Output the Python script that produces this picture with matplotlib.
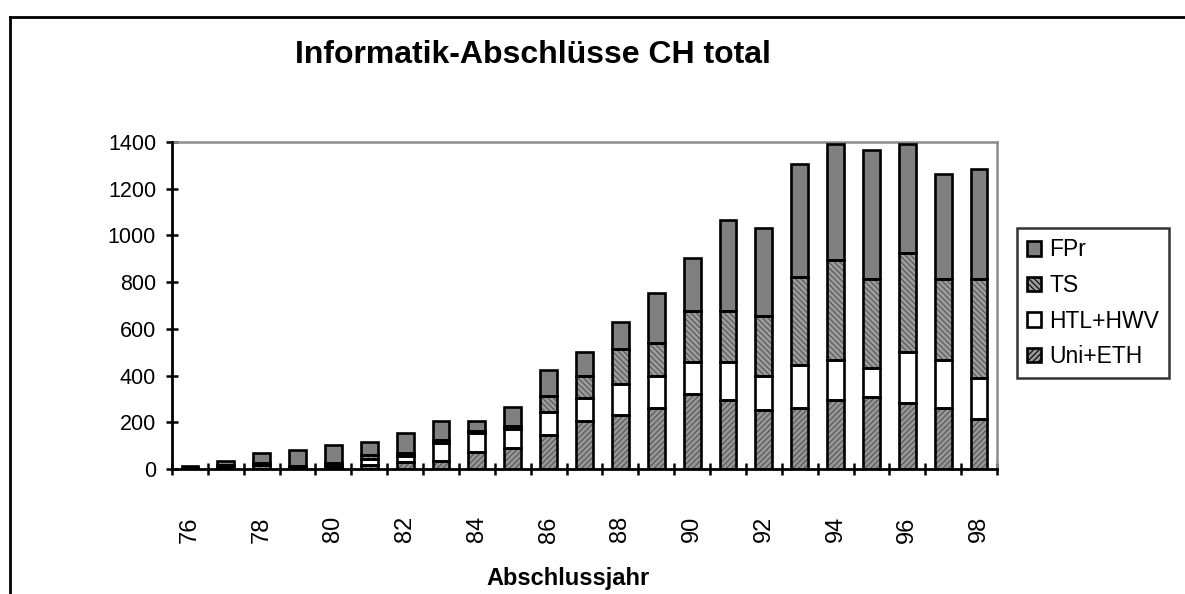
import matplotlib.pyplot as plt
import numpy as np
from matplotlib.lines import Line2D
from matplotlib.patches import Patch

plt.rcParams["font.family"] = ["Liberation Sans", "DejaVu Sans"]
plt.rcParams["hatch.linewidth"] = 0.8

# Abschlüsse pro Jahr (1976-1998)
years = ["76", "77", "78", "79", "80", "81", "82", "83", "84", "85", "86", "87",
         "88", "89", "90", "91", "92", "93", "94", "95", "96", "97", "98"]
uni_eth = [2, 3, 15, 5, 8, 17, 29, 36, 72, 91, 145, 204,
           230, 261, 319, 297, 251, 261, 297, 309, 284, 261, 215]
htl_hwv = [0, 2, 0, 5, 6, 26, 25, 77, 80, 80, 99, 98,
           136, 138, 141, 160, 148, 184, 170, 125, 216, 206, 173]
ts = [2, 12, 10, 2, 12, 15, 14, 10, 10, 15, 68, 96,
      147, 139, 215, 218, 254, 378, 428, 380, 426, 347, 426]
fpr = [8, 19, 45, 68, 78, 58, 84, 84, 45, 79, 113, 104,
       116, 217, 230, 391, 378, 484, 498, 550, 467, 450, 471]

series = [
    ("Uni+ETH", uni_eth, "#969696", "#555555", "//////"),
    ("HTL+HWV", htl_hwv, "white", "white", None),
    ("TS", ts, "#9c9c9c", "#555555", "\\\\\\\\\\\\"),
    ("FPr", fpr, "#808080", "#808080", None),
]

fig = plt.figure(figsize=(11.85, 5.94), dpi=100)
ax = fig.add_axes([172 / 1185, 125 / 594, 825 / 1185, 327 / 594])

x = np.arange(len(years))
width = 0.47
bottom = np.zeros(len(years))
handles = []
for label, vals, face, hcol, hatch in series:
    vals = np.array(vals, dtype=float)
    # fill + hatch first, black outline on top
    ax.bar(x, vals, width, bottom=bottom, color=face, edgecolor=hcol,
           hatch=hatch, linewidth=0, zorder=2)
    ax.bar(x, vals, width, bottom=bottom, facecolor="none", edgecolor="black",
           linewidth=1.9, zorder=3)
    handles.append(Patch(facecolor=face, edgecolor="black", hatch=hatch,
                         linewidth=1.9, label=label))
    bottom += vals

ax.set_xlim(-0.5, len(years) - 0.5)
ax.set_ylim(0, 1400)
ax.set_yticks(range(0, 1401, 200))

ax.set_xticks(x[::2])
ax.set_xticklabels(years[::2], rotation=90, fontsize=17)
ax.set_xticks(np.arange(-0.5, len(years), 1), minor=True)
ax.tick_params(axis="x", which="major", length=0, pad=34)
ax.tick_params(axis="x", which="minor", direction="inout", length=9, width=1.8)
ax.tick_params(axis="y", direction="inout", length=9, width=1.8, labelsize=15.5, pad=7)

for side in ("left", "bottom"):
    ax.spines[side].set_linewidth(2)
    ax.spines[side].set_zorder(4)
for side in ("top", "right"):
    ax.spines[side].set_color("#8c8c8c")
    ax.spines[side].set_linewidth(1.8)

fig.text(533 / 1185, 1 - 55 / 594, "Informatik-Abschlüsse CH total",
         ha="center", va="center", fontsize=23, fontweight="bold")
fig.text(568 / 1185, 1 - 578 / 594, "Abschlussjahr",
         ha="center", va="center", fontsize=17, fontweight="bold")

leg = fig.legend(handles=handles[::-1], loc="upper left",
                 bbox_to_anchor=(1017 / 1185, 1 - 228 / 594),
                 fontsize=16.5, frameon=True, fancybox=False,
                 handlelength=0.6, handleheight=0.6, handletextpad=0.35,
                 labelspacing=0.55, borderpad=0.45, borderaxespad=0)
leg.get_frame().set_edgecolor("black")
leg.get_frame().set_linewidth(1.8)

# chart area border (only top and left visible in the crop)
fig.add_artist(Line2D([10 / 1185, 1], [1 - 17 / 594] * 2, color="black",
                      linewidth=2, transform=fig.transFigure))
fig.add_artist(Line2D([10 / 1185] * 2, [1 - 17 / 594, 0], color="black",
                      linewidth=2, transform=fig.transFigure))

fig.savefig("out.png", dpi=100)
